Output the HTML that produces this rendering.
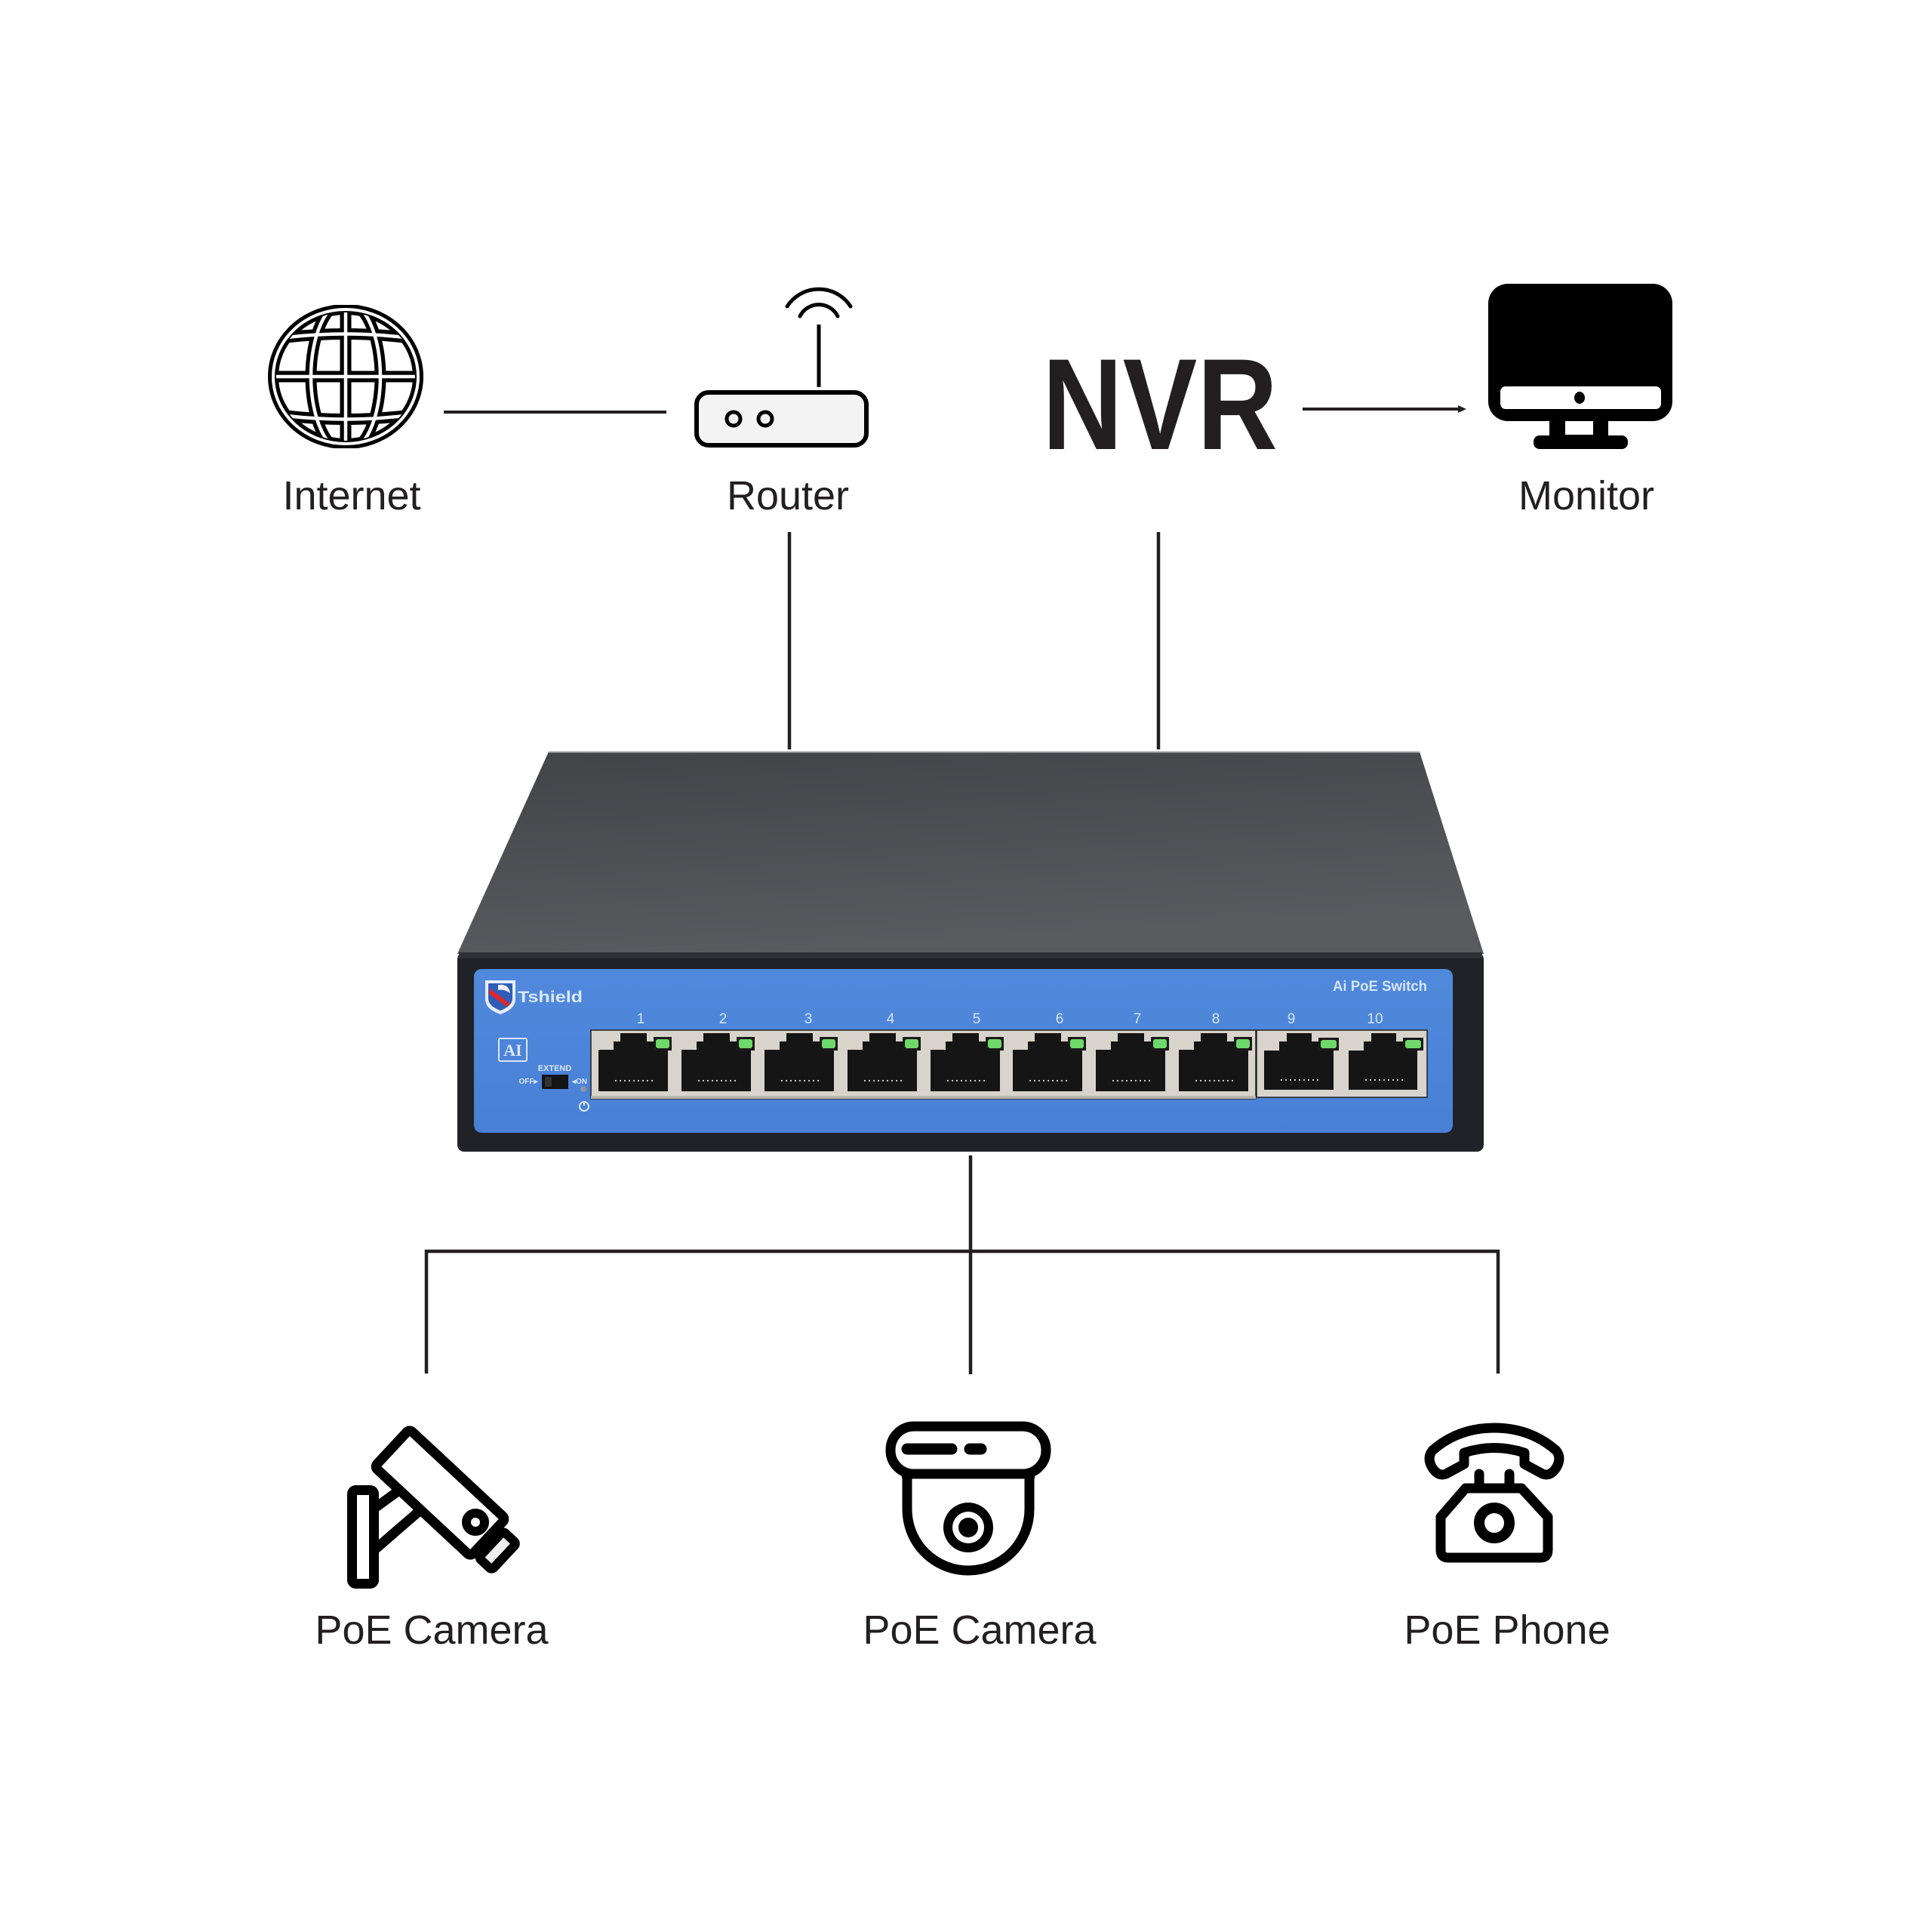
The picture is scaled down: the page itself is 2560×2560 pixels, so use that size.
<!DOCTYPE html>
<html><head><meta charset="utf-8"><style>
html,body{margin:0;padding:0;background:#fff;}
svg{display:block;}
</style></head><body>
<svg width="2560" height="2560" viewBox="0 0 2560 2560" xmlns="http://www.w3.org/2000/svg">
<defs>
<linearGradient id="topg" x1="0" y1="0" x2="0.3" y2="1">
<stop offset="0" stop-color="#414447"/><stop offset="1" stop-color="#585c5f"/>
</linearGradient>
<linearGradient id="blueg" x1="0" y1="0" x2="0" y2="1">
<stop offset="0" stop-color="#5089dc"/><stop offset="1" stop-color="#4880d6"/>
</linearGradient>
<clipPath id="gc"><ellipse cx="458" cy="499" rx="100" ry="93"/></clipPath>
<clipPath id="gci"><ellipse cx="458" cy="499" rx="92" ry="85"/></clipPath>
</defs>
<rect width="2560" height="2560" fill="#fff"/>

<!-- Globe -->
<g>
<ellipse cx="458" cy="499" rx="96" ry="89" fill="#fff" stroke="#000" stroke-width="14"/>
<g clip-path="url(#gc)" fill="none" stroke="#000" stroke-width="15">
<line x1="458" y1="390" x2="458" y2="610"/>
<ellipse cx="458" cy="499" rx="46" ry="100"/>
<path d="M350,451 Q458,434 566,451"/>
<line x1="350" y1="499" x2="566" y2="499"/>
<path d="M350,547 Q458,564 566,547"/>
</g>
<g clip-path="url(#gci)" fill="none" stroke="#fff" stroke-width="4.5">
<line x1="458" y1="390" x2="458" y2="610"/>
<ellipse cx="458" cy="499" rx="46" ry="100"/>
<path d="M350,451 Q458,434 566,451"/>
<line x1="350" y1="499" x2="566" y2="499"/>
<path d="M350,547 Q458,564 566,547"/>
</g>
<ellipse cx="458" cy="499" rx="96" ry="89" fill="none" stroke="#fff" stroke-width="4"/>
<rect x="412" y="396" width="94" height="8" fill="#fff"/>
<rect x="412" y="594" width="94" height="8" fill="#fff"/>
</g>

<!-- Internet - Router line -->
<line x1="588" y1="546" x2="883" y2="546" stroke="#231f20" stroke-width="4"/>

<!-- Router -->
<g fill="none" stroke="#000">
<rect x="923" y="520" width="225" height="70" rx="16" fill="#f3f3f3" stroke-width="6"/>
<circle cx="972" cy="555" r="9" stroke-width="5"/>
<circle cx="1014" cy="555" r="9" stroke-width="5"/>
<line x1="1085" y1="430" x2="1085" y2="513" stroke-width="5"/>
<path d="M1043,406 A50,50 0 0 1 1127,406" stroke-width="5" stroke-linecap="round"/>
<path d="M1060,419 A28,28 0 0 1 1110,419" stroke-width="5" stroke-linecap="round"/>
</g>

<!-- NVR -->
<text x="1381" y="595" font-family="Liberation Sans, Arial, sans-serif" font-weight="bold" font-size="172" textLength="312" lengthAdjust="spacingAndGlyphs" fill="#231f20">NVR</text>

<!-- NVR -> Monitor arrow -->
<line x1="1726" y1="542" x2="1936" y2="542" stroke="#231f20" stroke-width="4"/>
<polygon points="1932,537 1943,542 1932,547" fill="#231f20"/>

<!-- Monitor -->
<g>
<rect x="1972" y="376" width="244" height="182" rx="26" fill="#000"/>
<rect x="1988" y="512" width="213" height="30" rx="7" fill="#fff"/>
<ellipse cx="2093" cy="527" rx="7" ry="8" fill="#000"/>
<rect x="2053" y="554" width="78" height="26" fill="#000"/>
<rect x="2074" y="558" width="37" height="18" fill="#fff"/>
<rect x="2032" y="577" width="125" height="18" rx="8" fill="#000"/>
</g>

<!-- Top labels -->
<g font-family="Liberation Sans, Arial, sans-serif" font-size="54" fill="#231f20" text-anchor="middle">
<text x="466" y="675">Internet</text>
<text x="1044" y="675">Router</text>
<text x="2102" y="675">Monitor</text>
</g>

<!-- Vertical connectors to switch -->
<line x1="1046" y1="705" x2="1046" y2="993" stroke="#231f20" stroke-width="4.5"/>
<line x1="1535" y1="705" x2="1535" y2="993" stroke="#231f20" stroke-width="4.5"/>

<!-- Switch -->
<g>
<polygon points="727,996 1881,996 1966,1264 606,1264" fill="url(#topg)"/>
<line x1="727" y1="996.5" x2="1881" y2="996.5" stroke="#a0a3a6" stroke-width="2"/>
<rect x="606" y="1262" width="1360" height="264" rx="9" fill="#1f2327"/>
<rect x="608" y="1262" width="1356" height="8" fill="#2d3135"/>
<rect x="628" y="1284" width="1297" height="217" rx="10" fill="url(#blueg)"/>

<!-- Logo -->
<path d="M643,1299 H683 V1324 Q683,1337 663,1344 Q643,1337 643,1324 Z" fill="#e6eefa"/>
<path d="M647,1303 H679 V1323 Q679,1333 663,1339 Q647,1333 647,1323 Z" fill="#2f5db8"/>
<path d="M649,1310 L676,1330 L672,1334 L648,1317 Z" fill="#e0262b"/>
<path d="M660,1305 Q674,1303 676,1316 Q668,1310 660,1312 Z" fill="#f2f2f2"/>
<text x="686" y="1328" font-family="Liberation Sans, Arial, sans-serif" font-weight="bold" font-size="21" textLength="86" lengthAdjust="spacingAndGlyphs" fill="#dce8f9">Tshield</text>

<!-- AI box -->
<rect x="661" y="1376" width="37" height="30" rx="2" fill="none" stroke="#dbe7f8" stroke-width="2"/>
<text x="679.5" y="1399" font-family="Liberation Serif, serif" font-weight="bold" font-size="22" fill="#dbe7f8" text-anchor="middle">AI</text>
<text x="735" y="1419" font-family="Liberation Sans, Arial, sans-serif" font-weight="bold" font-size="11" fill="#dbe7f8" text-anchor="middle">EXTEND</text>
<text x="700" y="1436" font-family="Liberation Sans, Arial, sans-serif" font-weight="bold" font-size="10" fill="#dbe7f8" text-anchor="middle">OFF▸</text>
<rect x="718" y="1424" width="35" height="19" fill="#141414"/>
<rect x="722" y="1427" width="9" height="13" fill="#333"/>
<text x="768" y="1436" font-family="Liberation Sans, Arial, sans-serif" font-weight="bold" font-size="10" fill="#dbe7f8" text-anchor="middle">◂ON</text>
<circle cx="773" cy="1443" r="4" fill="#8a96a8"/>
<circle cx="774" cy="1466" r="6" fill="none" stroke="#dbe7f8" stroke-width="2"/>
<line x1="774" y1="1459" x2="774" y2="1465" stroke="#dbe7f8" stroke-width="2"/>

<!-- Port labels -->
<g font-family="Liberation Sans, Arial, sans-serif" font-size="19" fill="#d6e4f7" text-anchor="middle">
<text x="849" y="1356">1</text><text x="958" y="1356">2</text><text x="1071" y="1356">3</text>
<text x="1180" y="1356">4</text><text x="1294" y="1356">5</text><text x="1404" y="1356">6</text>
<text x="1507" y="1356">7</text><text x="1611" y="1356">8</text><text x="1711" y="1356">9</text>
<text x="1822" y="1356">10</text>
</g>
<text x="1891" y="1313" font-family="Liberation Sans, Arial, sans-serif" font-weight="bold" font-size="19" fill="#d6e4f7" text-anchor="end" textLength="125" lengthAdjust="spacingAndGlyphs">Ai PoE Switch</text>

<!-- Port strips -->
<rect x="783" y="1365" width="881" height="91" fill="#d9d4cb" stroke="#222" stroke-width="1.5"/>
<rect x="1665" y="1365" width="226" height="89" fill="#d9d4cb" stroke="#222" stroke-width="1.5"/>
<rect x="783" y="1452" width="881" height="4" fill="#b9b4ab"/>

<!-- Ports -->
<g fill="#151515">
<path d="M793,1446 V1391 H813 V1380 H822 V1369 H857 V1380 H867 V1391 H885 V1446 Z"/>
<path d="M903,1446 V1391 H923 V1380 H932 V1369 H967 V1380 H977 V1391 H995 V1446 Z"/>
<path d="M1013,1446 V1391 H1033 V1380 H1042 V1369 H1077 V1380 H1087 V1391 H1105 V1446 Z"/>
<path d="M1123,1446 V1391 H1143 V1380 H1152 V1369 H1187 V1380 H1197 V1391 H1215 V1446 Z"/>
<path d="M1233,1446 V1391 H1253 V1380 H1262 V1369 H1297 V1380 H1307 V1391 H1325 V1446 Z"/>
<path d="M1342,1446 V1391 H1362 V1380 H1371 V1369 H1406 V1380 H1416 V1391 H1434 V1446 Z"/>
<path d="M1452,1446 V1391 H1472 V1380 H1481 V1369 H1516 V1380 H1526 V1391 H1544 V1446 Z"/>
<path d="M1562,1446 V1391 H1582 V1380 H1591 V1369 H1626 V1380 H1636 V1391 H1654 V1446 Z"/>
<path d="M1675,1444 V1392 H1695 V1380 H1705 V1369 H1738 V1380 H1748 V1392 H1767 V1444 Z"/>
<path d="M1787,1444 V1392 H1807 V1380 H1817 V1369 H1850 V1380 H1860 V1392 H1878 V1444 Z"/>
</g>
<!-- LEDs -->
<g>
<g fill="#1a1a1a">
<rect x="866" y="1374" width="24" height="18"/><rect x="976" y="1374" width="24" height="18"/>
<rect x="1086" y="1374" width="24" height="18"/><rect x="1196" y="1374" width="24" height="18"/>
<rect x="1306" y="1374" width="24" height="18"/><rect x="1415" y="1374" width="24" height="18"/>
<rect x="1525" y="1374" width="24" height="18"/><rect x="1635" y="1374" width="24" height="18"/>
<rect x="1747" y="1375" width="27" height="17"/><rect x="1859" y="1375" width="27" height="17"/>
</g>
<g fill="#6fd86a">
<rect x="869" y="1377" width="18" height="12" rx="3"/><rect x="979" y="1377" width="18" height="12" rx="3"/>
<rect x="1089" y="1377" width="18" height="12" rx="3"/><rect x="1199" y="1377" width="18" height="12" rx="3"/>
<rect x="1309" y="1377" width="18" height="12" rx="3"/><rect x="1418" y="1377" width="18" height="12" rx="3"/>
<rect x="1528" y="1377" width="18" height="12" rx="3"/><rect x="1638" y="1377" width="18" height="12" rx="3"/>
<rect x="1750" y="1378" width="21" height="11" rx="3"/><rect x="1862" y="1378" width="21" height="11" rx="3"/>
</g>
</g>
<!-- Pins -->
<g stroke="#c8c8c8" stroke-width="2" stroke-dasharray="2,4">
<line x1="815" y1="1432" x2="865" y2="1432"/><line x1="925" y1="1432" x2="975" y2="1432"/>
<line x1="1035" y1="1432" x2="1085" y2="1432"/><line x1="1145" y1="1432" x2="1195" y2="1432"/>
<line x1="1255" y1="1432" x2="1305" y2="1432"/><line x1="1364" y1="1432" x2="1414" y2="1432"/>
<line x1="1474" y1="1432" x2="1524" y2="1432"/><line x1="1584" y1="1432" x2="1634" y2="1432"/>
<line x1="1697" y1="1431" x2="1747" y2="1431"/><line x1="1809" y1="1431" x2="1859" y2="1431"/>
</g>
</g>

<!-- Bottom connectors -->
<g stroke="#231f20" stroke-width="4.5">
<line x1="1286" y1="1531" x2="1286" y2="1821"/>
<line x1="563" y1="1658" x2="1987" y2="1658"/>
<line x1="565" y1="1656" x2="565" y2="1820"/>
<line x1="1985" y1="1656" x2="1985" y2="1820"/>
</g>

<!-- Bullet camera -->
<g fill="none" stroke="#000" stroke-width="13" stroke-linejoin="round">
<rect x="466.5" y="1974.5" width="29" height="124" rx="5" fill="#fff"/>
<line x1="497" y1="1998" x2="530" y2="1974"/>
<line x1="497" y1="2053" x2="557" y2="2001"/>
<g transform="translate(583,1978) rotate(43)">
<rect x="96" y="-20" width="24" height="48" rx="4" fill="#eee" stroke-width="12"/>
<rect x="-87" y="-34" width="174" height="68" rx="5" fill="#fff"/>
</g>
<circle cx="630" cy="2017" r="12" stroke-width="12"/>
</g>

<!-- Dome camera -->
<g stroke="#000" stroke-width="13" stroke-linejoin="round">
<path d="M1202,1952 L1202,2000 A81,81 0 0 0 1364,2000 L1364,1952" fill="#fff"/>
<rect x="1180" y="1890" width="206" height="63" rx="31" fill="#fff"/>
<line x1="1202" y1="1920" x2="1261" y2="1920" stroke-width="15" stroke-linecap="round"/>
<line x1="1285" y1="1920" x2="1300" y2="1920" stroke-width="15" stroke-linecap="round"/>
</g>
<rect x="1195" y="1950" width="176" height="9" fill="#000"/>
<circle cx="1283" cy="2024" r="33" fill="#000"/>
<circle cx="1283" cy="2024" r="21" fill="#fff"/>
<circle cx="1283" cy="2024" r="13" fill="#000"/>

<!-- Phone -->
<g fill="none" stroke="#000" stroke-width="13" stroke-linejoin="round" stroke-linecap="round">
<path d="M1940,1940 L1940,1925 Q1980,1912 2020,1925 L2020,1940 L2044,1953 Q2054,1957 2062,1945 Q2070,1932 2062,1922 Q2028,1892 1980,1892 Q1932,1892 1898,1922 Q1890,1932 1898,1945 Q1906,1957 1916,1953 Z" fill="#fff"/>
<line x1="1960" y1="1953" x2="1960" y2="1968"/>
<line x1="2000" y1="1953" x2="2000" y2="1968"/>
<path d="M1942,1972 L2016,1972 L2051,2010 L2051,2054 Q2051,2064 2041,2064 L1919,2064 Q1909,2064 1909,2054 L1909,2010 Z" fill="#fff" stroke-linecap="butt"/>
<circle cx="1980" cy="2018" r="20" stroke-width="14"/>
</g>

<!-- Bottom labels -->
<g font-family="Liberation Sans, Arial, sans-serif" font-size="54" fill="#231f20" text-anchor="middle">
<text x="572" y="2178">PoE Camera</text>
<text x="1298" y="2178">PoE Camera</text>
<text x="1997" y="2178">PoE Phone</text>
</g>
</svg>
</body></html>
